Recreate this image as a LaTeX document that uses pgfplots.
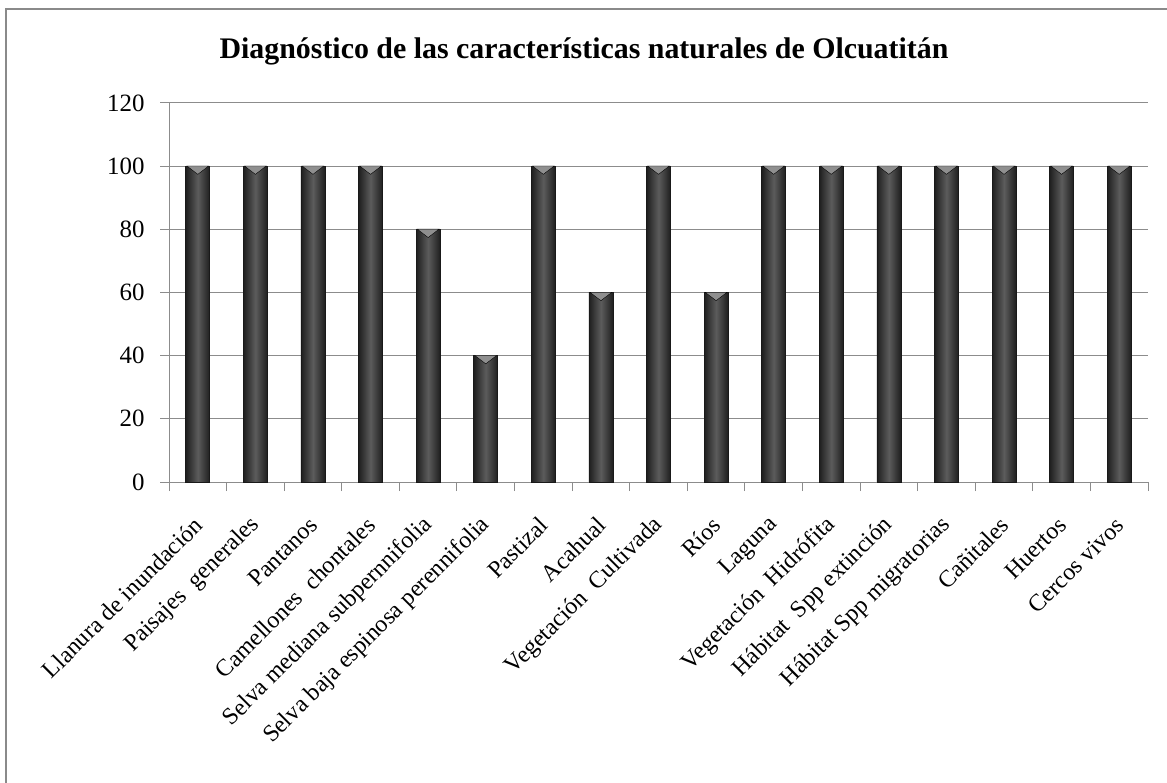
\documentclass[border=0pt]{standalone}
\usepackage{pgfplots}
\pgfplotsset{compat=1.18}
\usepackage{fontspec}
\setmainfont{Liberation Serif}
\definecolor{gridgray}{HTML}{8C8C8C}
\definecolor{framegray}{HTML}{8A8A8A}
\pgfplotsset{
  cylbar/.style={ybar, bar width=24bp, draw=black!90, line width=0.6bp,
    left color=black!88, right color=black!88, middle color=black!64, forget plot},
}
\begin{document}
\begin{tikzpicture}
\path[use as bounding box] (0,0) rectangle (1167bp,783bp);
\clip (0,0) rectangle (1167bp,783bp);
\draw[framegray, line width=2.2bp] (6bp,-20bp) rectangle (1190bp,774bp);
\node[anchor=base, font=\bfseries\fontsize{30}{30}\selectfont] at (584bp,724bp) {Diagnóstico de las características naturales de Olcuatitán};
\begin{axis}[
  at={(169bp,301bp)}, anchor=south west,
  scale only axis, width=979bp, height=379bp,
  xmin=-0.5, xmax=16.5, ymin=0, ymax=120,
  ytick={0,20,...,120},
  xtick={-0.5,0.5,...,16.5},
  x tick label as interval,
  xticklabels={Llanura de inundación,Paisajes~~generales,Pantanos,Camellones~~chontales,Selva mediana subpernnifolia,Selva baja espinosa perennifolia,Pastizal,Acahual,Vegetación~~Cultivada,Ríos,Laguna,Vegetación~~Hidrófita,Hábitat~~Spp extinción,Hábitat Spp migratorias,Cañitales,Huertos,Cercos vivos},
  axis x line*=bottom, axis y line*=left,
  axis line style={gridgray, line width=1bp},
  tick align=outside, major tick length=9bp,
  tick style={gridgray, line width=1bp},
  ymajorgrids, grid style={gridgray, line width=1bp},
  /pgf/number format/assume math mode=true,
  yticklabel style={font=\fontsize{25}{25}\selectfont, xshift=-12bp},
  xticklabel style={font=\fontsize{24}{24}\selectfont, xshift=3bp, yshift=-28bp, rotate=45, anchor=east},
  clip=false,
]
\addplot[cylbar] coordinates {(0,100)};
\addplot[cylbar] coordinates {(1,100)};
\addplot[cylbar] coordinates {(2,100)};
\addplot[cylbar] coordinates {(3,100)};
\addplot[cylbar] coordinates {(4,80)};
\addplot[cylbar] coordinates {(5,40)};
\addplot[cylbar] coordinates {(6,100)};
\addplot[cylbar] coordinates {(7,60)};
\addplot[cylbar] coordinates {(8,100)};
\addplot[cylbar] coordinates {(9,60)};
\addplot[cylbar] coordinates {(10,100)};
\addplot[cylbar] coordinates {(11,100)};
\addplot[cylbar] coordinates {(12,100)};
\addplot[cylbar] coordinates {(13,100)};
\addplot[cylbar] coordinates {(14,100)};
\addplot[cylbar] coordinates {(15,100)};
\addplot[cylbar] coordinates {(16,100)};
\addplot[only marks, mark=triangle*, mark size=7bp,
  mark options={yshift=-2.6bp, xscale=1.8, yscale=-0.8, fill=black!44, draw=none}]
  coordinates {(0,100) (1,100) (2,100) (3,100) (4,80) (5,40) (6,100) (7,60) (8,100) (9,60) (10,100) (11,100) (12,100) (13,100) (14,100) (15,100) (16,100)};
\end{axis}
\end{tikzpicture}
\end{document}
